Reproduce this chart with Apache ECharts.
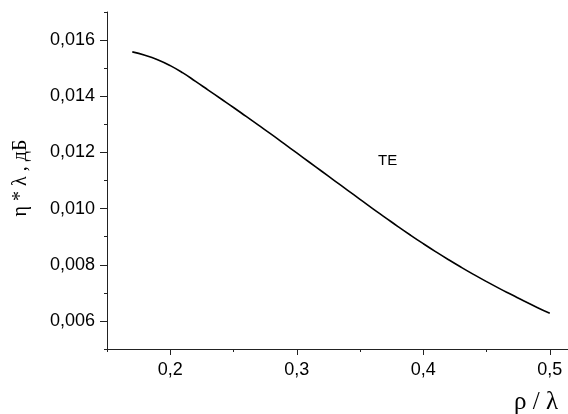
<!DOCTYPE html>
<html>
<head>
<meta charset="utf-8">
<script src="https://cdn.jsdelivr.net/npm/echarts@6/dist/echarts.min.js"></script>
<style>
  html, body { margin: 0; padding: 0; background: #fff; }
  #chart { width: 568px; height: 414px; }
</style>
</head>
<body>
<div id="chart"></div>
<script>
// rho / lambda
const rho = [0.17, 0.18, 0.19, 0.20, 0.21, 0.22, 0.23, 0.24, 0.25, 0.26, 0.27,
  0.28, 0.29, 0.30, 0.31, 0.32, 0.33, 0.34, 0.35, 0.36, 0.37, 0.38, 0.39,
  0.40, 0.41, 0.42, 0.43, 0.44, 0.45, 0.46, 0.47, 0.48, 0.49, 0.50];
// eta * lambda, dB (TE)
const teValues = [0.01558, 0.01546, 0.01530, 0.01509, 0.01483, 0.01453, 0.01422,
  0.01391, 0.01360, 0.01328, 0.01296, 0.01264, 0.01231, 0.01198, 0.01165,
  0.01132, 0.01099, 0.01066, 0.01033, 0.01000, 0.00968, 0.00936, 0.00905,
  0.00875, 0.00846, 0.00818, 0.00791, 0.00765, 0.00740, 0.00716, 0.00693,
  0.00670, 0.00648, 0.00627];

const xMajor = [0.2, 0.3, 0.4, 0.5];
const xMinor = [0.15, 0.25, 0.35, 0.45];
const yMajor = [0.006, 0.008, 0.010, 0.012, 0.014, 0.016];
const yMinor = [0.005, 0.007, 0.009, 0.011, 0.013, 0.015, 0.017];

const xMin = 0.15, xMax = 0.5144;
const yMin = 0.005, yMax = 0.017;

const axisColor = '#222';
const labelFont = { fontFamily: 'Liberation Sans', fontSize: 18, color: '#000' };

let chart = echarts.init(document.getElementById('chart'), null, { renderer: 'canvas' });

const data = rho.map((r, i) => [r, teValues[i]]);

let option = {
  animation: false,
  backgroundColor: '#fff',
  grid: { left: 107, top: 12, right: 0, bottom: 65 },
  xAxis: [
    {
      type: 'value', min: xMin, max: xMax,
      splitLine: { show: false },
      axisLine: { show: true, onZero: false, lineStyle: { color: axisColor, width: 1 } },
      axisTick: { show: true, customValues: xMajor, length: 6, lineStyle: { color: axisColor } },
      axisLabel: Object.assign({
        customValues: xMajor, margin: 12,
        formatter: v => v.toFixed(1).replace('.', ',')
      }, labelFont)
    },
    {
      type: 'value', min: xMin, max: xMax, position: 'bottom',
      splitLine: { show: false },
      axisLine: { show: false },
      axisTick: { show: true, customValues: xMinor, length: 3, lineStyle: { color: axisColor } },
      axisLabel: { show: false }
    }
  ],
  yAxis: [
    {
      type: 'value', min: yMin, max: yMax,
      splitLine: { show: false },
      axisLine: { show: true, onZero: false, lineStyle: { color: axisColor, width: 1 } },
      axisTick: { show: true, customValues: yMajor, length: 7, lineStyle: { color: axisColor } },
      axisLabel: Object.assign({
        customValues: yMajor, margin: 12,
        formatter: v => v.toFixed(3).replace('.', ',')
      }, labelFont)
    },
    {
      type: 'value', min: yMin, max: yMax, position: 'left',
      splitLine: { show: false },
      axisLine: { show: false },
      axisTick: { show: true, customValues: yMinor, length: 3, lineStyle: { color: axisColor } },
      axisLabel: { show: false }
    }
  ],
  graphic: [
    {
      type: 'text', left: 378, top: 153,
      style: { text: 'TE', font: '15px "Liberation Sans"', fill: '#000' }
    },
    {
      type: 'text', x: 21, y: 178, rotation: Math.PI / 2,
      style: {
        text: 'η * λ , дБ', font: '20px "Liberation Serif"', fill: '#000',
        align: 'center', verticalAlign: 'middle'
      }
    },
    {
      type: 'text', x: 536, y: 402,
      style: {
        text: 'ρ / λ', font: '25px "Liberation Serif"', fill: '#000',
        align: 'center', verticalAlign: 'middle'
      }
    }
  ],
  series: [
    {
      type: 'line',
      data: data,
      smooth: true,
      showSymbol: false,
      lineStyle: { color: '#000', width: 1.6 },
      xAxisIndex: 0,
      yAxisIndex: 0
    }
  ]
};
option && chart.setOption(option);
</script>
</body>
</html>
